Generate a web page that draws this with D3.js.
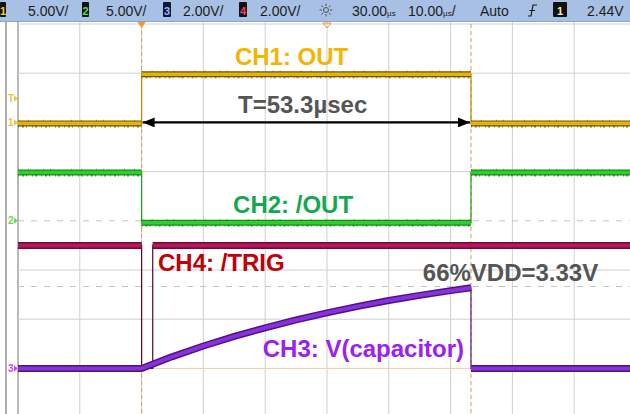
<!DOCTYPE html>
<html><head><meta charset="utf-8">
<script src="https://cdn.jsdelivr.net/npm/d3@7"></script>
<style>body{margin:0;background:#fff}svg{display:block}</style>
</head><body><svg id="c" width="630" height="414"></svg>
<script>
// ---- data ----
const timeDomain = [-20, 80];            // µs across 10 divisions (10 µs/div)
const divRangeY = [4, -4];               // 8 vertical divisions
const pulseWidth = 53.3;                 // µs
const cursorV3 = 3.33;                   // V, 66% VDD
const trigLevel = 2.44;                  // V on CH1
const chNames = ["CH1", "CH2", "CH3", "CH4"];
const voltsPerDiv = [5, 5, 2, 2];
const offsetDiv = [2, 0, -3, -3];
const ch1 = [[-20,-0.1],[0,-0.1],[0,4.9],[53.3,4.9],[53.3,-0.1],[80,-0.1]];
const ch2 = [[-20,4.9],[0,4.9],[0,-0.2],[53.3,-0.2],[53.3,4.9],[80,4.9]];
const ch4 = [[-20,5],[0,5],[0,0],[1.8,0],[1.8,5],[80,5]];
const ch3 = [[-20,0],[0,0],[5,0.48],[10,0.91],[15,1.30],[20,1.65],[25,1.97],[30,2.26],
             [35,2.52],[40,2.76],[45,2.97],[50,3.16],[53.3,3.28],[53.3,0],[80,0]];
const statusLabels = ["5.00V/","5.00V/","2.00V/","2.00V/"];
const delayLabel = "30.00", timebaseLabel = "10.00", modeLabel = "Auto", trigLabel = "2.44V";
const labels = [
  {text:"CH1: OUT", color:"#f4b400", t:15.1, v:5.83, ch:0},
  {text:"T=53.3µsec", color:"#555555", t:15.6, v:0.96, ch:0},
  {text:"CH2: /OUT", color:"#14a84f", t:14.8, v:0.80, ch:1},
  {text:"CH4: /TRIG", color:"#c10008", t:2.65, v:3.96, ch:3},
  {text:"66%VDD=3.33V", color:"#555555", t:45.5, v:3.55, ch:2},
  {text:"CH3: V(capacitor)", color:"#9b20f2", t:19.6, v:0.46, ch:2}
];

// ---- scales ----
const W = 630, H = 414;
const x = d3.scaleLinear().domain(timeDomain).range([18, 636]);
const yDiv = d3.scaleLinear().domain(divRangeY).range([24, 417.6]);
const yCh = (c, v) => yDiv(offsetDiv[c] + v / voltsPerDiv[c]);

const svg = d3.select("#c");
svg.append("rect").attr("width", W).attr("height", H).attr("fill", "#fff");

// ---- grid ----
const g = svg.append("g");
const xt = d3.range(timeDomain[0], timeDomain[1] + 1, 10);
g.selectAll(".vg").data(xt).join("line")
  .attr("x1", d => x(d)).attr("x2", d => x(d)).attr("y1", 22).attr("y2", H)
  .attr("stroke", (d,i) => i === 0 ? "#a8a8a8" : "#cfcfcf").attr("stroke-width", (d,i) => i === 0 ? 1.6 : 1);
g.selectAll(".hg").data(d3.range(-4, 5)).join("line")
  .attr("x1", 18).attr("x2", W).attr("y1", d => yDiv(d)).attr("y2", d => yDiv(d))
  .attr("stroke", d => d === -3 ? "#eccfae" : (d === 0 ? "none" : "#cfcfcf")).attr("stroke-width", 1);
g.append("line").attr("x1", 6).attr("x2", 6).attr("y1", 22).attr("y2", H).attr("stroke", "#8c8c8c").attr("stroke-width", 1.4);
// dashed horizontal reference lines
[yDiv(0), yCh(2, cursorV3)].forEach(yy => {
  g.append("line").attr("x1", 18).attr("x2", W).attr("y1", yy).attr("y2", yy)
    .attr("stroke", "#c4c4c4").attr("stroke-dasharray", "6,7").attr("stroke-width", 1);
});
// dashed time cursors
[0, pulseWidth].forEach(t => {
  g.append("line").attr("x1", x(t)).attr("x2", x(t)).attr("y1", 24).attr("y2", H)
    .attr("stroke", "#d99a5a").attr("stroke-dasharray", "4,3").attr("stroke-width", 1);
});

// ---- traces ----
const styles = [
  {dark:"#6d5800", main:"#e4b20e", thin:"#b89000", w:6, iw:3.6, speck:true},
  {dark:"#178c17", main:"#2ccf2c", thin:"#1aa01a", w:6, iw:3.5, speck:true},
  {dark:"#4a1580", main:"#8a30dc", thin:"#5a1a90", w:7, iw:4, speck:false},
  {dark:"#6e0a33", main:"#b8175a", thin:"#5a0828", w:7, iw:4, speck:false}
];
const line = d3.line();
function drawTrace(data, c) {
  const s = styles[c];
  const tg = svg.append("g");
  const pts = data.map(d => [x(d[0]), yCh(c, d[1])]);
  tg.append("path").attr("d", line(pts)).attr("fill", "none")
    .attr("stroke", s.thin).attr("stroke-width", 1.2);
  let runs = [], cur = [];
  for (let i = 0; i < data.length - 1; i++) {
    const dt = data[i+1][0] - data[i][0];
    if (dt > 0) { if (!cur.length) cur.push(pts[i]); cur.push(pts[i+1]); }
    else if (cur.length) { runs.push(cur); cur = []; }
  }
  if (cur.length) runs.push(cur);
  runs = runs.filter(r => r[r.length-1][0] - r[0][0] > 30);
  runs.forEach(r => {
    tg.append("path").attr("d", line(r)).attr("fill", "none").attr("stroke", s.dark)
      .attr("stroke-width", s.w).attr("stroke-linejoin", "round");
    tg.append("path").attr("d", line(r)).attr("fill", "none").attr("stroke", s.main)
      .attr("stroke-width", s.iw).attr("stroke-linejoin", "round");
    if (s.speck) {
      tg.append("path").attr("d", line(r)).attr("fill", "none").attr("stroke", s.dark)
        .attr("stroke-width", 2).attr("stroke-dasharray", "1,3,2,2,1,5,1,2,2,4").attr("opacity", 0.75)
        .attr("transform", "translate(0,3)");
      tg.append("path").attr("d", line(r)).attr("fill", "none").attr("stroke", s.dark)
        .attr("stroke-width", 1.5).attr("stroke-dasharray", "1,9,1,14,1,6,1,20").attr("opacity", 0.6)
        .attr("transform", "translate(0,-3)");
    }
  });
}
drawTrace(ch1, 0);
drawTrace(ch2, 1);
drawTrace(ch4, 3);
drawTrace(ch3, 2);

// ---- double arrow ----
const ay = yCh(0, 0);
svg.append("defs").html(
  '<marker id="ah" viewBox="0 0 12 10" refX="12" refY="5" markerWidth="12" markerHeight="10" markerUnits="userSpaceOnUse" orient="auto-start-reverse"><path d="M0,0 L12,5 L0,10 Z" fill="#000"/></marker>');
svg.append("line").attr("x1", x(0) + 1).attr("x2", x(pulseWidth) - 1).attr("y1", ay).attr("y2", ay)
  .attr("stroke", "#000").attr("stroke-width", 2.4)
  .attr("marker-start", "url(#ah)").attr("marker-end", "url(#ah)");

// ---- labels ----
svg.selectAll(".lab").data(labels).join("text")
  .attr("x", d => x(d.t)).attr("y", d => yCh(d.ch, d.v))
  .attr("font-family", "Liberation Sans, Arial, sans-serif").attr("font-weight", "bold")
  .attr("font-size", 24).attr("fill", d => d.color).text(d => d.text);

// ---- left markers ----
const markers = [
  {txt:"T", c:0, v:trigLevel, col:"#e8c43a"},
  {txt:"1", c:0, v:0, col:"#e8c43a"},
  {txt:"2", c:1, v:0, col:"#66dd44"},
  {txt:"3", c:2, v:0, col:"#cc44ee"}
];
markers.forEach(m => {
  const yy = yCh(m.c, m.v);
  svg.append("text").attr("x", 8).attr("y", yy + 3.5).attr("font-family", "Liberation Sans, Arial")
    .attr("font-size", 10).attr("font-weight", "bold").attr("fill", m.col).text(m.txt);
  svg.append("path").attr("d", `M14,${yy-3} L18,${yy} L14,${yy+3} Z`).attr("fill", m.col);
});

// ---- status bar ----
const sb = svg.append("g");
sb.append("rect").attr("x", 0).attr("y", 0).attr("width", W).attr("height", 21.5).attr("fill", "#a8c0e3");
sb.append("line").attr("x1", 0).attr("x2", W).attr("y1", 21.5).attr("y2", 21.5).attr("stroke", "#8aa4cc");
const boxes = [
  {x:0, w:6, fill:"#111", col:"#f3d21c", t:"1"},
  {x:82, w:7, fill:"#111", col:"#55e04a", t:"2"},
  {x:163, w:8, fill:"#0d1838", col:"#9fb6ff", t:"3"},
  {x:239, w:8, fill:"#111", col:"#ff3a6a", t:"4"},
  {x:553, w:14, fill:"#111", col:"#f7eeb0", t:"1"}
];
boxes.forEach(b => {
  sb.append("rect").attr("x", b.x).attr("y", 2).attr("width", b.w).attr("height", 15).attr("fill", b.fill).attr("rx", 1);
  sb.append("text").attr("x", b.x + b.w/2).attr("y", 14.5).attr("text-anchor", "middle")
    .attr("font-family", "Liberation Sans, Arial").attr("font-weight", "bold").attr("font-size", 11)
    .attr("fill", b.col).text(b.t);
});
const sFont = t => t.attr("font-family", "Liberation Sans, Arial, sans-serif").attr("font-size", 14).attr("fill", "#1c1c1c");
[28, 106, 183, 260].forEach((px, i) => sFont(sb.append("text").attr("x", px).attr("y", 15.5)).text(statusLabels[i]));
// sun icon
const sun = sb.append("g").attr("transform", "translate(326,10)").attr("stroke", "#555").attr("stroke-width", 1);
sun.append("circle").attr("r", 2.5).attr("fill", "none");
d3.range(8).forEach(k => {
  const a = k * Math.PI / 4;
  sun.append("line").attr("x1", Math.cos(a)*4).attr("y1", Math.sin(a)*4).attr("x2", Math.cos(a)*6.5).attr("y2", Math.sin(a)*6.5);
});
function timeText(px, val, slash) {
  const t = sFont(sb.append("text").attr("x", px).attr("y", 15.5));
  t.append("tspan").text(val);
  t.append("tspan").attr("font-size", 8).text("µs");
  if (slash) t.append("tspan").text("/");
}
timeText(352, delayLabel, false);
timeText(408, timebaseLabel, true);
sFont(sb.append("text").attr("x", 480).attr("y", 15.5)).text(modeLabel);
sb.append("path").attr("d", "M528,16 L531,16 L533,5 L537,5 M529.5,10.5 L535,10.5").attr("fill", "none")
  .attr("stroke", "#1c1c1c").attr("stroke-width", 1.2);
sFont(sb.append("text").attr("x", 587).attr("y", 15.5)).text(trigLabel);

// top markers
svg.append("path").attr("d", `M${x(0)-4},22 L${x(0)+4},22 L${x(0)},28 Z`).attr("fill", "#f29a1a");
svg.append("path").attr("d", `M${x(30)-4},23 L${x(30)+4},23 L${x(30)},28 Z`).attr("fill", "none").attr("stroke", "#f29a1a").attr("stroke-width", 1);
</script></body></html>
